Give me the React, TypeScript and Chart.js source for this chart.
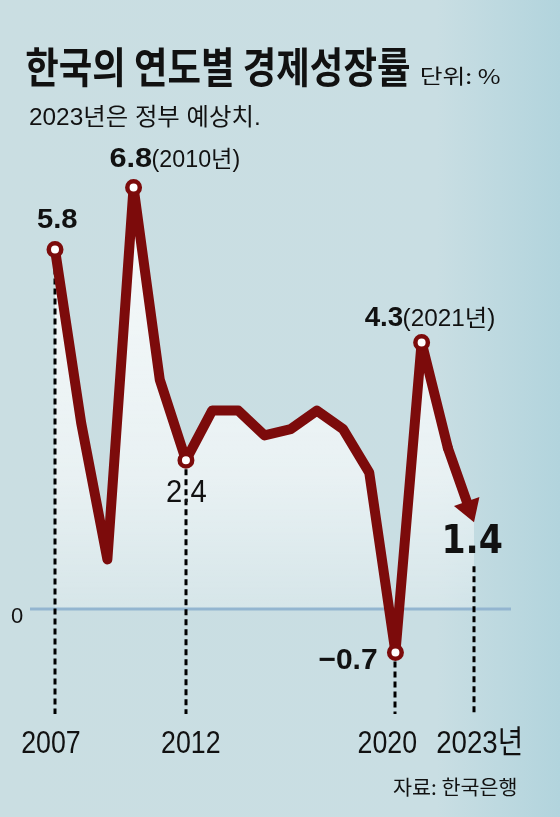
import React, { useEffect, useRef } from "react";
import { Chart, registerables } from "chart.js";

Chart.register(...registerables);

const years = ["2007", "2008", "2009", "2010", "2011", "2012", "2013", "2014", "2015", "2016", "2017", "2018", "2019", "2020", "2021", "2022", "2023"];
const growth = [5.8, 3.0, 0.8, 6.8, 3.7, 2.4, 3.2, 3.2, 2.8, 2.9, 3.2, 2.9, 2.2, -0.7, 4.3, 2.6, 1.4];
const markerYears = ["2007", "2010", "2012", "2020", "2021"];
const guideYears = ["2007", "2012", "2020", "2023"];
const tickLabels = ["2007", "2012", "2020", "2023년"];
const annotatedYears = ["2007", "2010", "2012", "2020", "2021", "2023"];
const annotationNotes = ["", "(2010년)", "", "", "(2021년)", ""];
const yTickLabels = ["0"];

const TITLE = "한국의 연도별 경제성장률";
const UNIT = "단위: %";
const SUBTITLE = "2023년은 정부 예상치.";
const SOURCE = "자료: 한국은행";

const RED = "#7c0b0b";
const LAT = '"Liberation Sans", "Noto Sans CJK KR", sans-serif';
const KR = '"Noto Sans CJK KR", "Liberation Sans", sans-serif';
const HEAVY = '"DejaVu Sans", "Liberation Sans", sans-serif';

type TOpts = { size: number; weight?: string; family: string; width?: number; align?: "left" | "center"; color?: string };

function txt(ctx: CanvasRenderingContext2D, text: string, x: number, y: number, o: TOpts) {
  ctx.save();
  ctx.font = `${o.weight || "normal"} ${o.size}px ${o.family}`;
  ctx.textBaseline = "alphabetic";
  ctx.textAlign = "left";
  const m = ctx.measureText(text);
  const inkW = (m.actualBoundingBoxLeft || 0) + (m.actualBoundingBoxRight || m.width);
  const sx = o.width ? o.width / inkW : 1;
  const w = o.width || inkW;
  const left = o.align === "center" ? x - w / 2 : x;
  ctx.translate(left, y);
  ctx.scale(sx, 1);
  ctx.fillStyle = o.color || "#111";
  ctx.fillText(text, m.actualBoundingBoxLeft || 0, 0);
  ctx.restore();
}

const fmt = (v: number) => (v < 0 ? "\u2212" + Math.abs(v).toFixed(1) : v.toFixed(1));

const labelStyle: Record<string, { dx: number; dy: number; size: number; weight: string; w: number; family: string; noteW?: number }> = {
  "2007": { dx: -18, dy: -21, size: 28, weight: "bold", w: 40, family: LAT },
  "2010": { dx: -23, dy: -20, size: 28, weight: "bold", w: 41, family: LAT, noteW: 87 },
  "2012": { dx: -19, dy: 42, size: 32, weight: "normal", w: 39, family: LAT },
  "2020": { dx: -76, dy: 17, size: 29, weight: "bold", w: 57, family: LAT },
  "2021": { dx: -57, dy: -16, size: 28, weight: "bold", w: 38, family: LAT, noteW: 91 },
  "2023": { dx: -29, dy: 31, size: 39, weight: "bold", w: 57, family: HEAVY },
};

const tickStyle: Record<string, { dx: number; w: number; align: "left" | "center" }> = {
  "2007": { dx: -4, w: 58, align: "center" },
  "2012": { dx: 5, w: 58, align: "center" },
  "2020": { dx: -8, w: 58, align: "center" },
  "2023년": { dx: -37, w: 84, align: "left" },
};

function drawGuides(chart: any) {
  const { ctx, scales } = chart;
  const x = scales.x;
  const y = scales.y;
  const y0 = y.getPixelForValue(0);
  ctx.save();
  ctx.strokeStyle = "#93b5d0";
  ctx.lineWidth = 3;
  ctx.beginPath();
  ctx.moveTo(30, y0);
  ctx.lineTo(511, y0);
  ctx.stroke();

  ctx.strokeStyle = "#000";
  ctx.lineWidth = 3;
  ctx.setLineDash([6, 4]);
  guideYears.forEach((yr) => {
    const i = years.indexOf(yr);
    const px = Math.round(x.getPixelForValue(i));
    const py = y.getPixelForValue(growth[i]);
    const start = yr === "2023" ? py + 44 : py + 9;
    ctx.beginPath();
    ctx.moveTo(px, start);
    ctx.lineTo(px, 714);
    ctx.stroke();
  });
  ctx.restore();
}

const decor = {
  id: "decor",
  afterDatasetDraw(chart: any, args: any) {
    if (args.index === 1) drawGuides(chart);
  },
  afterDatasetsDraw(chart: any) {
    const { ctx, scales } = chart;
    const x = scales.x;
    const y = scales.y;
    const n = growth.length;
    const ax = x.getPixelForValue(n - 2);
    const ay = y.getPixelForValue(growth[n - 2]);
    const tx = x.getPixelForValue(n - 1);
    const ty = y.getPixelForValue(growth[n - 1]);
    const len = Math.hypot(tx - ax, ty - ay);
    const ux = (tx - ax) / len;
    const uy = (ty - ay) / len;
    ctx.save();
    ctx.strokeStyle = RED;
    ctx.fillStyle = RED;
    ctx.lineWidth = 10;
    ctx.lineCap = "round";
    ctx.beginPath();
    ctx.moveTo(ax, ay);
    ctx.lineTo(tx - ux * 16, ty - uy * 16);
    ctx.stroke();
    const bx = tx - ux * 22;
    const by = ty - uy * 22;
    ctx.beginPath();
    ctx.moveTo(tx, ty);
    ctx.lineTo(bx - uy * 13.5, by + ux * 13.5);
    ctx.lineTo(bx + uy * 13.5, by - ux * 13.5);
    ctx.closePath();
    ctx.fill();
    ctx.restore();
  },
  afterDraw(chart: any) {
    const { ctx, scales } = chart;
    const x = scales.x;
    const y = scales.y;

    txt(ctx, TITLE, 26, 83, { size: 42, weight: "bold", family: KR, width: 383 });
    txt(ctx, UNIT, 421, 84, { size: 20, family: KR, width: 79 });
    txt(ctx, SUBTITLE, 30, 125, { size: 24, family: LAT, width: 229 });

    annotatedYears.forEach((yr, k) => {
      const i = years.indexOf(yr);
      const px = x.getPixelForValue(i);
      const py = y.getPixelForValue(growth[i]);
      const s = labelStyle[yr];
      const lx = px + s.dx;
      const ly = py + s.dy;
      txt(ctx, fmt(growth[i]), lx, ly, { size: s.size, weight: s.weight, family: s.family, width: s.w });
      const note = annotationNotes[k];
      if (note) {
        txt(ctx, note, lx + s.w + 1, ly, { size: 23, family: LAT, width: s.noteW });
      }
    });

    yTickLabels.forEach((t) => {
      const py = y.getPixelForValue(Number(t));
      txt(ctx, t, 11, py + 14, { size: 22, family: LAT, width: 12 });
    });

    tickLabels.forEach((t) => {
      const i = years.indexOf(t.slice(0, 4));
      const px = x.getPixelForValue(i);
      const s = tickStyle[t];
      txt(ctx, t, px + s.dx, 753, { size: 32, family: LAT, width: s.w, align: s.align });
    });

    txt(ctx, SOURCE, 393, 795, { size: 20, family: KR, width: 123 });
  },
};

export default function App() {
  const ref = useRef<HTMLCanvasElement | null>(null);
  useEffect(() => {
    if (!ref.current) return;
    const lineData = growth.map((v, i) => (i === growth.length - 1 ? null : v));
    const radii = years.map((yr) => (markerYears.includes(yr) ? 6.25 : 0));
    const chart = new Chart(ref.current, {
      type: "line",
      data: {
        labels: years,
        datasets: [
          {
            data: lineData,
            borderColor: RED,
            borderWidth: 10,
            borderJoinStyle: "round",
            borderCapStyle: "round",
            pointRadius: radii,
            pointBackgroundColor: "#ffffff",
            pointBorderColor: RED,
            pointBorderWidth: 4.5,
            pointHoverRadius: radii,
            fill: false,
            tension: 0,
            clip: false,
            order: 1,
          } as any,
          {
            data: growth,
            borderWidth: 0,
            pointRadius: 0,
            fill: "origin",
            clip: false,
            order: 2,
            backgroundColor: (c: any) => {
              const ch = c.chart;
              if (!ch.chartArea) return "rgba(255,255,255,0.5)";
              const yS = ch.scales.y;
              const g = ch.ctx.createLinearGradient(0, yS.getPixelForValue(7), 0, yS.getPixelForValue(0));
              g.addColorStop(0, "rgba(255,255,255,0.85)");
              g.addColorStop(0.7, "rgba(255,255,255,0.58)");
              g.addColorStop(1, "rgba(255,255,255,0.24)");
              return g;
            },
          } as any,
        ],
      },
      options: {
        responsive: false,
        animation: false,
        events: [],
        layout: { padding: { left: 55, right: 86, top: 144, bottom: 115 } },
        plugins: { legend: { display: false }, tooltip: { enabled: false }, title: { display: false } },
        scales: {
          x: { type: "category", display: false, offset: false },
          y: { type: "linear", display: false, min: -1.5, max: 7.5 },
        },
      },
      plugins: [decor],
    });
    return () => chart.destroy();
  }, []);

  return (
    <div
      style={{
        position: "fixed",
        left: 0,
        top: 0,
        width: 560,
        height: 817,
        background: "linear-gradient(to right, #cadee2 0%, #c9dee3 78%, #b2d4dd 100%)",
      }}
    >
      <canvas ref={ref} width={560} height={817} style={{ display: "block" }} />
    </div>
  );
}
